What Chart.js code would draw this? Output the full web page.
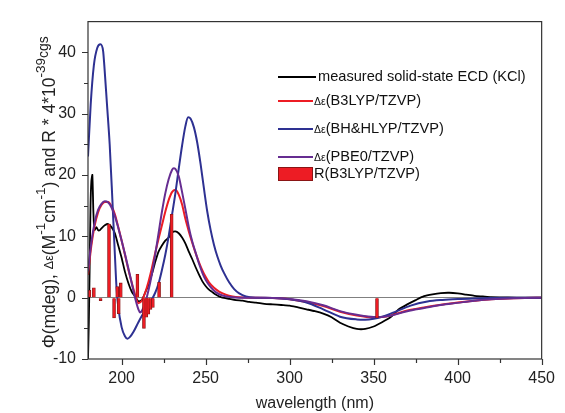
<!DOCTYPE html>
<html>
<head>
<meta charset="utf-8">
<script src="https://cdn.jsdelivr.net/npm/chart.js@4/dist/chart.umd.min.js"></script>
<style>
  html, body { margin: 0; padding: 0; background: #fff; }
  #wrap { width: 565px; height: 413px; }
</style>
</head>
<body>
<div id="wrap"><canvas id="ecdChart"></canvas></div>
<script>
// measured solid-state ECD (KCl)
const measuredNm = [180, 180.5, 181, 181.5, 182, 182.6, 183.2, 183.8, 185, 186, 187, 188, 190, 192, 194, 196, 198, 200, 202, 204, 206, 208, 210, 212, 214, 216, 218, 220, 222, 224, 226, 228, 230, 232, 234, 236, 238, 240, 242, 244, 246, 248, 250, 252, 254, 256, 258, 260, 264, 268, 272, 276, 280, 285, 290, 295, 300, 305, 310, 315, 320, 325, 330, 335, 340, 345, 350, 355, 360, 365, 370, 375, 380, 385, 390, 395, 400, 405, 410, 415, 420, 430, 440, 450];
const measuredVal = [-10, -4, 5, 15, 19, 20, 14, 11, 11.5, 11, 11, 11.3, 11.8, 12, 11.5, 10.5, 8.5, 6.5, 4.2, 2.4, 1.0, 0.2, -0.6, -0.4, 0.8, 2.1, 3.8, 5.8, 7.5, 8.5, 9.3, 9.8, 10.6, 10.8, 10.5, 9.8, 8.8, 7.5, 6.3, 5.0, 3.8, 2.7, 1.9, 1.3, 0.9, 0.5, 0.2, 0, -0.2, -0.4, -0.5, -0.7, -0.8, -1.0, -1.1, -1.2, -1.3, -1.6, -1.9, -2.2, -2.6, -3.2, -4.1, -4.7, -5.1, -5.1, -4.7, -4.0, -3.2, -1.9, -1.1, -0.4, 0.25, 0.55, 0.75, 0.8, 0.7, 0.5, 0.3, 0.2, 0.1, 0.03, 0, 0];

// Δε(B3LYP/TZVP)
const b3lypNm = [180, 182, 184, 186, 188, 190, 192, 194, 196, 198, 200, 202, 204, 206, 208, 210, 212, 214, 216, 218, 220, 222, 224, 226, 228, 230, 232, 234, 236, 238, 240, 242, 244, 246, 248, 250, 252, 255, 258, 262, 266, 270, 275, 280, 290, 300, 310, 320, 330, 340, 350, 355, 360, 370, 380, 390, 400, 410, 420, 430, 440, 450];
const b3lypVal = [3.7, 8.5, 11.8, 13.9, 15.1, 15.6, 15.6, 14.9, 13.6, 11.5, 9.3, 7.0, 4.6, 2.5, 0.5, -0.9, -0.5, 0.8, 2.6, 4.8, 7.3, 9.6, 11.8, 14.0, 15.9, 17.2, 17.6, 16.8, 15.2, 12.8, 10.8, 9.0, 7.3, 5.8, 4.5, 3.4, 2.5, 1.6, 1.0, 0.5, 0.2, 0.05, 0, 0, -0.05, -0.25, -0.7, -1.35, -2.3, -2.9, -3.2, -3.15, -2.9, -2.1, -1.6, -1.15, -0.8, -0.5, -0.25, -0.15, -0.05, 0];

// Δε(BH&HLYP/TZVP)
const bhhlypNm = [180, 181.6, 183.5, 185.5, 187.4, 189, 189.7, 191.3, 192.9, 194.5, 196, 197, 198, 200, 202, 203.5, 205, 207, 210, 212, 214, 216, 218, 220, 222, 224, 226, 228, 230, 232, 234, 236, 238, 239.6, 241, 243, 245, 247, 249, 251, 253, 255, 257, 259, 261, 264, 267, 270, 274, 280, 290, 300, 310, 320, 330, 340, 345, 350, 355, 362, 372, 382, 391, 400, 410, 420, 435, 450];
const bhhlypVal = [23, 31.5, 37.9, 40.7, 41.3, 40.2, 37.9, 31.5, 25, 16, 7, 1.5, -1.5, -4.8, -6.3, -6.7, -6.4, -5.6, -4.0, -3.0, -2.1, -1.2, -0.3, 0.8, 2.3, 4.5, 7.0, 10.0, 13.5, 17.0, 21.0, 24.8, 28.0, 29.4, 29.2, 27.8, 25.3, 21.8, 17.8, 14.0, 11.0, 8.6, 6.7, 5.2, 4.0, 2.5, 1.4, 0.7, 0.2, 0, -0.05, -0.27, -0.8, -1.9, -3.1, -3.55, -3.6, -3.45, -3.1, -2.4, -1.3, -0.64, -0.37, -0.22, -0.12, -0.06, -0.02, 0];

// Δε(PBE0/TZVP)
const pbe0Nm = [180, 182, 184, 186, 188, 190, 192, 194, 196, 198, 200, 202, 204, 206, 208, 210, 211, 212, 214, 216, 218, 220, 222, 224, 226, 228, 230, 231, 232, 234, 236, 238, 240, 242, 244, 246, 248, 250, 253, 256, 260, 265, 270, 280, 290, 300, 310, 320, 330, 340, 350, 355, 360, 370, 380, 390, 400, 410, 420, 430, 440, 450];
const pbe0Val = [4.3, 9.0, 12.3, 14.3, 15.3, 15.7, 15.5, 14.7, 13.3, 11.4, 9.3, 7.1, 4.8, 2.4, 0.0, -1.9, -2.4, -2.2, -0.9, 1.2, 3.8, 7.0, 10.5, 14.0, 17.0, 19.3, 20.8, 21.1, 21.0, 19.8, 17.2, 14.4, 11.5, 9.2, 7.4, 5.6, 4.1, 2.9, 1.7, 0.9, 0.35, 0.1, 0, 0, -0.05, -0.2, -0.6, -1.25, -2.2, -2.8, -3.15, -3.15, -2.95, -2.2, -1.7, -1.2, -0.85, -0.5, -0.25, -0.15, -0.05, 0];

// R(B3LYP/TZVP) rotational strengths
const rotNm = [180.8, 183.5, 187.5, 192.5, 195.5, 197.4, 198.3, 199.5, 209.4, 213.3, 214.7, 215.9, 217.2, 218.6, 222.3, 229.8, 352];
const rotVal = [1.2, 1.6, -0.5, 12.0, -3.3, 1.8, -2.6, 2.4, 3.8, -5.0, -3.2, -2.7, -1.9, -1.6, 2.5, 13.6, -3.3];

const xTicks = [180, 200, 225, 250, 275, 300, 325, 350, 375, 400, 425, 450];
const yTicks = [-10, -5, 0, 5, 10, 15, 20, 25, 30, 35, 40, 45];

const FONT = "'Liberation Sans', Arial, sans-serif";
const toPoints = (xs, ys) => xs.map((x, i) => ({ x: x, y: ys[i] }));

// frame and outward tick marks
const framePlugin = {
  id: 'frame',
  afterDatasetsDraw(chart) {
    const { ctx, chartArea: a, scales } = chart;
    ctx.save();
    ctx.strokeStyle = '#333';
    ctx.lineWidth = 1.2;
    ctx.strokeRect(a.left, a.top, a.right - a.left, a.bottom - a.top);
    ctx.beginPath();
    xTicks.forEach(v => {
      if (v === 180) return;
      const px = Math.round(scales.x.getPixelForValue(v)) + 0.5;
      const len = v % 50 === 0 ? 6 : 4;
      ctx.moveTo(px, a.bottom);
      ctx.lineTo(px, a.bottom + len);
    });
    yTicks.forEach(v => {
      if (v === 45) return;
      const py = Math.round(scales.y.getPixelForValue(v)) + 0.5;
      const len = v % 10 === 0 ? 6 : 4;
      ctx.moveTo(a.left, py);
      ctx.lineTo(a.left - len, py);
    });
    ctx.stroke();
    ctx.restore();
  }
};

// rotated y title with superscripts
const yTitlePlugin = {
  id: 'yTitle',
  afterDraw(chart) {
    const { ctx, chartArea: a } = chart;
    const parts = [
      ['Φ(mdeg), ', 17.5, 0],
      ['Δε', 12.5, 0],
      ['(M', 17.5, 0],
      ['-1', 13.5, -9],
      ['cm', 17.5, 0],
      ['-1', 13.5, -9],
      [') and R * 4*10', 17.5, 0],
      ['-39', 13.5, -9],
      ['cgs', 14, -6]
    ];
    ctx.save();
    ctx.translate(50, (a.top + a.bottom) / 2 + 2);
    ctx.rotate(-Math.PI / 2);
    ctx.fillStyle = '#222';
    ctx.textBaseline = 'middle';
    let total = 0;
    parts.forEach(p => { ctx.font = p[1] + 'px ' + FONT; total += ctx.measureText(p[0]).width; });
    let x = -total / 2;
    parts.forEach(p => {
      ctx.font = p[1] + 'px ' + FONT;
      ctx.fillText(p[0], x, p[2]);
      x += ctx.measureText(p[0]).width;
    });
    ctx.restore();
  }
};

// legend inside the plot
const legendPlugin = {
  id: 'innerLegend',
  afterDraw(chart) {
    const { ctx } = chart;
    const rows = [77, 101, 129, 157, 174];
    ctx.save();
    ctx.textBaseline = 'middle';
    chart.data.datasets.forEach((ds, i) => {
      const y = rows[i];
      if (ds.type === 'bar') {
        ctx.fillStyle = ds.backgroundColor;
        ctx.fillRect(278, y - 7, 35, 14);
        ctx.strokeStyle = ds.borderColor;
        ctx.lineWidth = 1;
        ctx.strokeRect(278.5, y - 6.5, 34, 13);
      } else {
        ctx.strokeStyle = ds.borderColor;
        ctx.lineWidth = 1.8;
        ctx.beginPath();
        ctx.moveTo(278, y);
        ctx.lineTo(i === 0 ? 316 : 313, y);
        ctx.stroke();
      }
      ctx.fillStyle = '#111';
      let x = i === 0 ? 318 : 314;
      let label = ds.label;
      if (label.startsWith('Δε')) {
        ctx.font = '10.5px ' + FONT;
        ctx.fillText('Δε', x, y + 1);
        x += ctx.measureText('Δε').width;
        label = label.slice(2);
      }
      ctx.font = '14.6px ' + FONT;
      ctx.fillText(label, x, y);
    });
    ctx.restore();
  }
};

new Chart(document.getElementById('ecdChart'), {
  type: 'line',
  data: {
    datasets: [
      {
        label: 'measured solid-state ECD (KCl)',
        data: toPoints(measuredNm, measuredVal),
        borderColor: '#000000',
        borderWidth: 1.8,
        pointRadius: 0,
        tension: 0.2,
        order: 5
      },
      {
        label: 'Δε(B3LYP/TZVP)',
        data: toPoints(b3lypNm, b3lypVal),
        borderColor: '#ed1c24',
        borderWidth: 2,
        pointRadius: 0,
        cubicInterpolationMode: 'monotone',
        order: 4
      },
      {
        label: 'Δε(BH&HLYP/TZVP)',
        data: toPoints(bhhlypNm, bhhlypVal),
        borderColor: '#2e3192',
        borderWidth: 2,
        pointRadius: 0,
        cubicInterpolationMode: 'monotone',
        order: 3
      },
      {
        label: 'Δε(PBE0/TZVP)',
        data: toPoints(pbe0Nm, pbe0Val),
        borderColor: '#662d91',
        borderWidth: 2,
        pointRadius: 0,
        cubicInterpolationMode: 'monotone',
        order: 2
      },
      {
        type: 'bar',
        label: 'R(B3LYP/TZVP)',
        data: toPoints(rotNm, rotVal),
        backgroundColor: '#ed1c24',
        borderColor: '#8a1515',
        borderWidth: 0.8,
        barThickness: 3,
        order: 1
      }
    ]
  },
  options: {
    responsive: true,
    maintainAspectRatio: false,
    animation: false,
    layout: { padding: { left: 0, top: 15, right: 15, bottom: 0 } },
    plugins: {
      legend: { display: false },
      tooltip: { enabled: false }
    },
    scales: {
      x: {
        type: 'linear',
        min: 180,
        max: 450,
        offset: false,
        afterBuildTicks: s => { s.ticks = xTicks.map(v => ({ value: v })); },
        afterFit: s => { s.height = 54; },
        ticks: {
          autoSkip: false,
          maxRotation: 0,
          padding: 10,
          color: '#222',
          font: { family: FONT, size: 16 },
          callback: v => (v % 50 === 0 ? v : '')
        },
        grid: { display: false, drawTicks: false },
        border: { display: false },
        title: {
          display: true,
          text: 'wavelength (nm)',
          color: '#222',
          font: { family: FONT, size: 16 },
          padding: 0
        }
      },
      y: {
        type: 'linear',
        min: -10,
        max: 45,
        afterBuildTicks: s => { s.ticks = yTicks.map(v => ({ value: v })); },
        afterFit: s => { s.width = 88; },
        ticks: {
          autoSkip: false,
          padding: 12,
          color: '#222',
          font: { family: FONT, size: 16 },
          callback: v => (v % 10 === 0 && v < 45 ? v : '')
        },
        grid: {
          drawTicks: false,
          lineWidth: 1,
          color: c => (c.tick && c.tick.value === 0 ? '#808080' : 'rgba(0,0,0,0)')
        },
        border: { display: false }
      }
    }
  },
  plugins: [framePlugin, yTitlePlugin, legendPlugin]
});
</script>
</body>
</html>
